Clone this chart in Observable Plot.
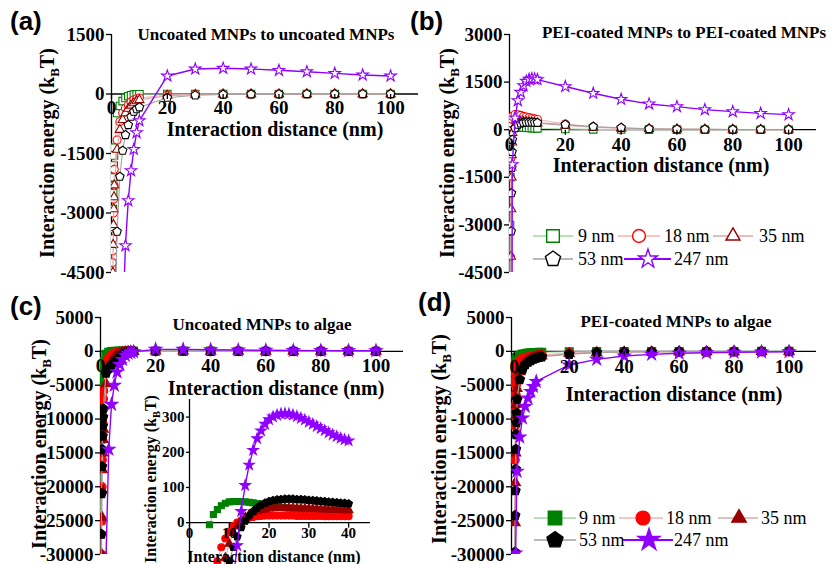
<!DOCTYPE html>
<html><head><meta charset="utf-8">
<script src="https://cdn.jsdelivr.net/npm/d3@7"></script>
<script src="https://cdn.jsdelivr.net/npm/@observablehq/plot@0.6"></script>
<style>
body{margin:0;background:#fff;}
#root{position:relative;width:832px;height:564px;overflow:hidden;background:#fff;}
.wrap{position:absolute;}
#overlay{position:absolute;left:0;top:0;pointer-events:none;}
</style></head><body><div id="root"></div>
<script>
// ---------- data ----------
const sizeLabels = ["9 nm","18 nm","35 nm","53 nm","247 nm"];
const distAB = [0.1,0.2,0.3,0.4,0.5,0.6,0.7,0.8,0.9,1,2,3,4,5,6,7,8,9,10,20,30,40,50,60,70,80,90,100];
const distC  = [0.1,0.2,0.3,0.4,0.5,0.6,0.7,0.8,0.9,1,2,3,4,5,6,7,8,9,10,11,12,20,30,40,50,60,70,80,90,100];
const distInset = [5,6,7,8,9,10,11,12,13,14,15,16,17,18,19,20,21,22,23,24,25,26,27,28,29,30,31,32,33,34,35,36,37,38,39,40];

// (a) uncoated MNPs to uncoated MNPs
const a9   = [-9000,-4400,-3900,-3400,-2900,-2500,-2100,-1800,-1550,-1350,-480,-300,-180,-100,-55,-30,-15,-8,-4,0,0,0,0,0,0,0,0,0];
const a18  = [-12000,-4600,-4250,-3950,-3650,-3350,-3000,-2650,-2300,-1900,-1160,-700,-480,-360,-280,-200,-150,-120,-100,-25,-8,-3,-2,-1,-1,0,0,0];
const a35  = [-20000,-10000,-7000,-5500,-4500,-3800,-3300,-2900,-2600,-2300,-1400,-900,-650,-480,-370,-290,-230,-180,-150,-40,-15,-6,-3,-1,0,0,0,0];
const a53  = [-60000,-30000,-20000,-15000,-12000,-10000,-8500,-7500,-6800,-6200,-3470,-2084,-1429,-1033,-781,-572,-446,-380,-335,-93,-33,-12,-5,-2,0,0,0,0];
const a247 = [-300000,-150000,-100000,-75000,-60000,-50000,-43000,-37000,-33000,-30000,-15000,-9000,-5800,-3823,-2689,-1933,-1394,-975,-673,454,630,650,630,597,562,521,479,454];

// (b) PEI-coated MNPs to PEI-coated MNPs
const b9   = [-8000,-3000,-1500,-700,-300,-100,0,40,60,70,80,75,70,65,60,55,50,45,40,20,10,5,3,2,1,1,1,1];
const b18  = [-30000,-9000,-4000,-2000,-900,-300,0,200,330,420,480,470,450,420,400,380,360,340,320,180,95,50,28,16,10,6,4,2];
const b35  = [-60000,-25000,-12000,-7000,-4000,-2500,-1500,-800,-400,-100,150,220,240,245,240,235,225,215,205,130,75,45,28,18,12,8,5,3];
const b53  = [-80000,-30000,-15000,-8000,-5000,-3200,-2000,-1200,-700,-316,50,160,200,220,230,232,230,225,220,160,95,60,25,15,10,7,5,4];
const b247 = [-80000,-40000,-26000,-19000,-15000,-12000,-10000,-8000,-6000,-1100,370,916,1180,1390,1527,1590,1610,1600,1580,1360,1147,958,812,727,632,569,515,474];

// (c) uncoated MNPs to algae
const c9   = [-25000,-16000,-10000,-7000,-5200,-4000,-3100,-2400,-1900,-1500,-450,-150,-40,-6,23,37,48,55,59,60,60,48,36,29,24,20,17,15,13,12];
const c18  = [-40000,-30000,-25000,-20000,-16000,-13000,-10500,-8500,-7000,-5800,-2200,-1100,-600,-330,-180,-110,-70,-45,-25,-10,0,20,19,18,15,13,11,10,9,8];
const c35  = [-90000,-60000,-40000,-30000,-24500,-20500,-17500,-15000,-13000,-11500,-4800,-2500,-1400,-850,-500,-300,-180,-100,-60,-30,-10,40,40,35,30,26,23,20,18,16];
const c53  = [-80000,-40000,-27000,-21000,-17000,-14500,-12500,-11000,-9700,-8500,-3200,-2500,-2000,-1600,-1200,-800,-450,-250,-110,-70,-40,60,64,54,45,38,33,29,26,23];
const c247 = [-400000,-200000,-130000,-100000,-80000,-67000,-57000,-50000,-45000,-40000,-30500,-14450,-7835,-5000,-3040,-1960,-1225,-590,-300,-160,-65,293,286,233,190,160,135,115,100,88];

// (c) inset
const i9   = [-6,23,37,48,55,59,60,60,60,59,58,56,54,52,50,48,46,45,43,42,41,40,39,38,37,36,35,34,33,33,32,31,31,30,30,29];
const i18  = [-330,-180,-110,-70,-45,-25,-10,0,6,11,14,16,18,19,20,20,20,20,20,20,20,20,19,19,19,19,19,19,19,18,18,18,18,18,18,18];
const i35  = [-850,-500,-300,-180,-100,-60,-30,-10,5,15,23,29,33,36,38,40,41,42,42,42,42,42,41,41,40,40,39,39,38,38,37,37,36,36,35,35];
const i53  = [-1600,-1200,-800,-450,-250,-110,-70,-40,-14,5,20,32,42,50,56,60,63,65,66,67,67,67,66,66,65,64,63,62,61,60,59,58,57,56,55,54];
const i247 = [-5000,-3040,-1960,-1225,-590,-300,-160,-65,32,106,164,206,239,261,280,293,301,306,309,310,309,306,302,297,292,286,280,274,268,262,256,250,245,240,236,233];

// (d) PEI-coated MNPs to algae
const d9   = [-9000,-4500,-3000,-2200,-1700,-1400,-1200,-1050,-950,-870,-550,-400,-310,-250,-210,-180,-160,-140,-125,-60,-35,-25,-18,-14,-11,-9,-8,-7];
const d18  = [-30000,-16000,-11000,-8000,-6400,-5000,-4000,-3100,-2400,-1760,-1400,-1150,-1000,-870,-770,-690,-620,-570,-540,-260,-150,-100,-70,-50,-40,-32,-27,-23];
const d35  = [-60000,-40000,-25300,-19400,-15000,-12000,-9500,-7800,-6500,-5500,-3000,-2100,-1600,-1300,-1100,-950,-830,-740,-670,-330,-190,-120,-85,-62,-48,-39,-32,-27];
const d53  = [-60000,-29650,-24250,-20580,-17400,-14450,-12300,-10500,-9100,-7100,-4160,-2700,-1960,-1600,-1350,-1150,-1000,-900,-800,-440,-150,-80,-50,-35,-25,-20,-15,-12];
const d247 = [null,null,null,null,-29800,null,null,null,null,-17700,-12640,-9850,-8130,-6910,-5930,-5190,-4450,null,null,-2010,-1180,-690,-440,-290,-200,-140,-100,-50];

const ticksAY = [-4500,-3000,-1500,0,1500];
const ticksBY = [-4500,-3000,-1500,0,1500,3000];
const ticksCDY = [-30000,-25000,-20000,-15000,-10000,-5000,0,5000];
const ticksX = [0,20,40,60,80,100];
const ticksInsetY = [0,100,200,300];
const ticksInsetX = [0,10,20,30,40];

// ---------- style ----------
const FONT = "'Liberation Serif','Times New Roman',serif";
const markColors = ["#008000","#ff0000","#990000","#000000","#8f00ff"];
const lineColors = ["#a3d6a3","#f6b0b0","#d8a8a8","#a0a0a0","#8f00ff"];
const pentagon = {draw(ctx, size){ const R = Math.sqrt(size/2.3776); for(let k=0;k<5;k++){const a=-Math.PI/2+k*2*Math.PI/5; const x=R*Math.cos(a), y=R*Math.sin(a); if(k) ctx.lineTo(x,y); else ctx.moveTo(x,y);} ctx.closePath(); }};
const vtick = {draw(ctx){ ctx.moveTo(0,0); ctx.lineTo(0,5); }};
const symbols = [d3.symbolSquare, d3.symbolCircle, d3.symbolTriangle, pentagon, d3.symbolStar];

function rows(dist, vals){ return dist.map((d,i)=>({x:d,y:vals[i]})).filter(r=>r.y!=null); }

function panel(o){
  const marks = [
    Plot.ruleY([0], {stroke:"#000", strokeWidth:1.3}),
    Plot.ruleX([o.xDomain[0]], {stroke:"#000", strokeWidth:1.3})
  ];
  o.series.forEach((vals,i)=>{
    const data = rows(o.dist, vals);
    marks.push(Plot.line(data,{x:"x",y:"y",stroke:lineColors[i],strokeWidth:i===4?1.4:1.1,clip:true}));
    marks.push(Plot.dot(data,{x:"x",y:"y",symbol:symbols[i],r:o.r[i],stroke:markColors[i],fill:o.filled?markColors[i]:"white",strokeWidth:1.1,clip:true}));
  });
  marks.push(Plot.axisY({ticks:o.yTicks,tickFormat:d=>String(d),tickSize:o.ts,tickPadding:2,fontSize:o.fs,fontWeight:"bold",fontFamily:FONT,label:null,strokeWidth:1.3}));
  marks.push(Plot.dot(o.xTicks,{x:d=>d,y:0,symbol:vtick,stroke:"#000",fill:"none",strokeWidth:1.3}));
  marks.push(Plot.text(o.xTicks,{x:d=>d,y:0,text:d=>String(d),dy:o.xdy,fontSize:o.fs,fontWeight:"bold",fontFamily:FONT,lineAnchor:"middle",fill:"#000"}));
  const svg = Plot.plot({width:o.width,height:o.height,marginLeft:o.ml,marginRight:0,marginTop:o.mt,marginBottom:o.mb,
    x:{domain:o.xDomain,axis:null},y:{domain:o.yDomain},
    style:{background:"transparent",overflow:"visible",maxWidth:"none"},marks});
  const w = document.createElement("div");
  w.className="wrap"; w.style.left=o.left+"px"; w.style.top=o.top+"px"; w.style.width=o.width+"px"; w.style.height=o.height+"px";
  w.appendChild(svg);
  document.getElementById("root").appendChild(w);
}

const rHollow = [4.2,4.0,3.4,3.9,3.6];
const rFilled = [4.5,4.5,3.8,4.4,3.9];
const rInset  = [3.4,3.5,3.2,3.5,3.3];

panel({left:0,top:0,width:418,height:282,ml:111,mt:34,mb:10,xDomain:[0,110],yDomain:[-4500,1500],yTicks:ticksAY,xTicks:ticksX,fs:19,ts:5,xdy:14,dist:distAB,series:[a9,a18,a35,a53,a247],filled:false,r:rHollow});
panel({left:416,top:0,width:400,height:282,ml:93,mt:34,mb:10,xDomain:[0,110],yDomain:[-4500,3000],yTicks:ticksBY,xTicks:ticksX,fs:19,ts:5,xdy:15,dist:distAB,series:[b9,b18,b35,b53,b247],filled:false,r:rHollow});
panel({left:0,top:282,width:403,height:282,ml:100,mt:35,mb:10,xDomain:[0,110],yDomain:[-30000,5000],yTicks:ticksCDY,xTicks:ticksX,fs:19,ts:5,xdy:15,dist:distC,series:[c9,c18,c35,c53,c247],filled:true,r:rFilled});
panel({left:416,top:282,width:400,height:282,ml:95,mt:35,mb:10,xDomain:[-1,110],yDomain:[-30000,5000],yTicks:ticksCDY,xTicks:ticksX,fs:19,ts:5,xdy:16,dist:distAB,series:[d9,d18,d35,d53,d247],filled:true,r:rFilled});
panel({left:140,top:395,width:230,height:169,ml:49,mt:4,mb:0,xDomain:[0,45.5],yDomain:[-119,350],yTicks:ticksInsetY,xTicks:ticksInsetX,fs:15,ts:3,xdy:11,dist:distInset,series:[i9,i18,i35,i53,i247],filled:true,r:rInset});

// ---------- overlay text & legends ----------
const ov = d3.select("#root").append("svg").attr("id","overlay").attr("width",832).attr("height",564);
function txt(x,y,s,opt){
  return ov.append("text").attr("x",x).attr("y",y).text(s)
    .attr("font-family",opt.sans?"'Liberation Sans',Arial,sans-serif":FONT)
    .attr("font-weight",opt.bold===false?"normal":"bold").attr("font-size",opt.fs)
    .attr("text-anchor",opt.anchor||"start");
}
[["(a)",10,30],["(b)",410,30],["(c)",10,315],["(d)",418,311]].forEach(([s,x,y])=>txt(x,y,s,{sans:true,fs:26}));
[["Uncoated MNPs to uncoated MNPs",266,40],["PEI-coated MNPs to PEI-coated MNPs",684,38],["Uncoated MNPs to algae",262,330],["PEI-coated MNPs to algae",676,327]]
  .forEach(([s,x,y])=>txt(x,y,s,{fs:17,anchor:"middle"}));
[[275,136],[661,172],[276,395],[674,401]].forEach(([x,y])=>txt(x,y,"Interaction distance (nm)",{fs:20,anchor:"middle"}));
txt(274,562,"Interaction distance (nm)",{fs:16,anchor:"middle"});
function ylab(x,y,fs){
  const t = ov.append("text").attr("transform",`translate(${x},${y}) rotate(-90)`)
    .attr("font-family",FONT).attr("font-weight","bold").attr("font-size",fs).attr("text-anchor","middle");
  t.append("tspan").text("Interaction energy (k");
  t.append("tspan").attr("font-size",fs*0.65).attr("dy",fs*0.25).text("B");
  t.append("tspan").attr("dy",-fs*0.25).text("T)");
}
ylab(54,153,20); ylab(454,153,20); ylab(46,444,20); ylab(446,439,20); ylab(156,479,16);

function legend(rowsDef, filled, sizes){
  rowsDef.forEach(([y,items])=>items.forEach(([i,x1,x2,mx,tx])=>{
    ov.append("line").attr("x1",x1).attr("x2",x2).attr("y1",y).attr("y2",y)
      .attr("stroke",lineColors[i]).attr("stroke-width",i===4?2:1.5);
    ov.append("path").attr("d",d3.symbol(symbols[i],sizes[i])()).attr("transform",`translate(${mx},${y})`)
      .attr("fill",filled?markColors[i]:"white").attr("stroke",markColors[i]).attr("stroke-width",1.4);
    txt(tx,y+6,sizeLabels[i],{fs:18,bold:false});
  }));
}
legend([[236,[[0,533,573,553,578],[1,618,660,639,664],[2,713,753,733,759]]],[259,[[3,533,573,553,578],[4,624,671,648,674]]]],false,[160,130,85,150,110]);
legend([[518,[[0,534,576,555,579],[1,619,663,643,666],[2,718,758,739,761]]],[540,[[3,534,576,555,579],[4,623,673,649,674]]]],true,[180,150,90,170,150]);
</script></body></html>
